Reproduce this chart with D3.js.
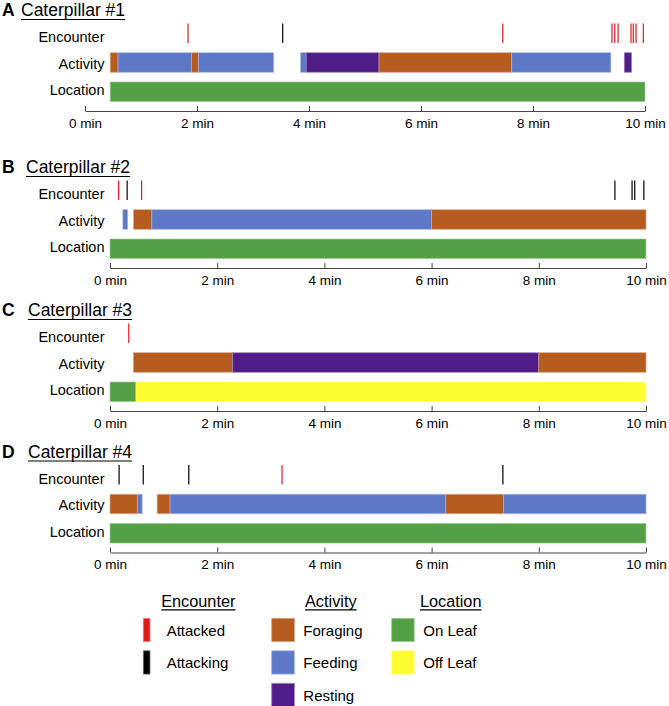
<!DOCTYPE html>
<html>
<head>
<meta charset="utf-8">
<script src="https://cdn.jsdelivr.net/npm/d3@7"></script>
<style>
  body { margin: 0; background: #fff; }
  text { font-family: "Liberation Sans", Arial, sans-serif; }
</style>
</head>
<body>
<div id="chart"></div>
<script>
// ---- data (minutes) ----
const panelLetters = ["A", "B", "C", "D"];
const panelNames = ["Caterpillar #1", "Caterpillar #2", "Caterpillar #3", "Caterpillar #4"];
const rowNames = ["Encounter", "Activity", "Location"];
const tickMinutes = [0, 2, 4, 6, 8, 10];

// Caterpillar #1
const attacked1 = [1.84, 7.46, 9.41, 9.46, 9.52, 9.75, 9.79, 9.84, 9.97];
const attacking1 = [3.53];
const activity1 = [["Foraging", 0.45, 0.59], ["Feeding", 0.59, 1.90], ["Foraging", 1.90, 2.03],
  ["Feeding", 2.03, 3.37], ["Feeding", 3.85, 3.95], ["Resting", 3.95, 5.25],
  ["Foraging", 5.25, 7.62], ["Feeding", 7.62, 9.39], ["Resting", 9.63, 9.76]];
const location1 = [["On Leaf", 0.45, 10]];

// Caterpillar #2
const attacked2 = [0.16, 0.59];
const attacking2 = [0.32, 9.42, 9.74, 9.79, 9.96];
const activity2 = [["Feeding", 0.24, 0.33], ["Foraging", 0.44, 0.78], ["Feeding", 0.78, 6.0],
  ["Foraging", 6.0, 10]];
const location2 = [["On Leaf", 0, 10]];

// Caterpillar #3
const attacked3 = [0.35];
const attacking3 = [];
const activity3 = [["Foraging", 0.435, 2.29], ["Resting", 2.29, 8.0], ["Foraging", 8.0, 10]];
const location3 = [["On Leaf", 0, 0.485], ["Off Leaf", 0.485, 10]];

// Caterpillar #4
const attacked4 = [3.21];
const attacking4 = [0.17, 0.62, 1.47, 7.33];
const activity4 = [["Foraging", 0, 0.51], ["Feeding", 0.51, 0.60], ["Foraging", 0.88, 1.12],
  ["Feeding", 1.12, 6.26], ["Foraging", 6.26, 7.34], ["Feeding", 7.34, 10]];
const location4 = [["On Leaf", 0, 10]];

const encounterTypes = ["Attacked", "Attacking"];
const activityTypes = ["Foraging", "Feeding", "Resting"];
const locationTypes = ["On Leaf", "Off Leaf"];

const attackedAll = [attacked1, attacked2, attacked3, attacked4];
const attackingAll = [attacking1, attacking2, attacking3, attacking4];
const activityAll = [activity1, activity2, activity3, activity4];
const locationAll = [location1, location2, location3, location4];

// ---- style ----
const color = {
  "Attacked": "#e31a1c", "Attacking": "#000000",
  "Foraging": "#b75c1f", "Feeding": "#5c78c7", "Resting": "#501c87",
  "On Leaf": "#53a045", "Off Leaf": "#fdfd30"
};
const edge = c => d3.interpolateRgb(c, "#fff")(0.45);

const panelTop = [0, 157, 300, 441.5];
const axisRanges = [[85, 645], [110, 646], [110, 646], [110, 646]];
const titleX = [21, 26, 28, 28];
const labelBaseline = {"Encounter": 42, "Activity": 68.5, "Location": 95};

const svg = d3.select("#chart")
  .append("svg")
  .attr("width", 669)
  .attr("height", 706);

const y = d3.scaleBand()
  .domain(rowNames)
  .range([23.5, 101.5])
  .paddingInner(0.333);

panelNames.forEach((name, i) => {
  const g = svg.append("g").attr("transform", "translate(0," + panelTop[i] + ")");
  const x = d3.scaleLinear().domain([0, 10]).range(axisRanges[i]);

  // title
  g.append("text").attr("x", 2).attr("y", 16).attr("font-size", 17.5)
    .attr("font-weight", "bold").text(panelLetters[i]);
  const t = g.append("text").attr("x", titleX[i]).attr("y", 16).attr("font-size", 17.5).text(name);
  const w = t.node().getComputedTextLength();
  g.append("line").attr("x1", titleX[i]).attr("x2", titleX[i] + w)
    .attr("y1", 19.5).attr("y2", 19.5).attr("stroke", "#000").attr("stroke-width", 1.2);

  // row labels
  g.selectAll(".rowlab")
    .data(rowNames)
    .enter()
    .append("text")
    .attr("x", 104.5)
    .attr("y", d => labelBaseline[d])
    .attr("text-anchor", "end")
    .attr("font-size", 14.5)
    .text(d => d);

  // encounters
  const enc = attackingAll[i].map(v => ({t: v, type: "Attacking"}))
    .concat(attackedAll[i].map(v => ({t: v, type: "Attacked"})));
  g.selectAll(".enc")
    .data(enc)
    .enter()
    .append("line")
    .attr("x1", d => x(d.t)).attr("x2", d => x(d.t))
    .attr("y1", y("Encounter")).attr("y2", y("Encounter") + y.bandwidth())
    .attr("stroke", d => color[d.type])
    .attr("stroke-width", 1.2);

  // activity
  g.selectAll(".act")
    .data(activityAll[i])
    .enter()
    .append("rect")
    .attr("x", d => x(d[1]))
    .attr("width", d => x(d[2]) - x(d[1]))
    .attr("y", y("Activity"))
    .attr("height", y.bandwidth())
    .attr("fill", d => color[d[0]])
    .attr("stroke", d => edge(color[d[0]]))
    .attr("stroke-width", 0.7);

  // location
  g.selectAll(".loc")
    .data(locationAll[i])
    .enter()
    .append("rect")
    .attr("x", d => x(d[1]))
    .attr("width", d => x(d[2]) - x(d[1]))
    .attr("y", y("Location"))
    .attr("height", y.bandwidth())
    .attr("fill", d => color[d[0]])
    .attr("stroke", d => edge(color[d[0]]))
    .attr("stroke-width", 0.7);

  // axis
  const ax = g.append("g")
    .attr("transform", "translate(0,111)")
    .call(d3.axisBottom(x).tickValues(tickMinutes).tickSize(-5).tickSizeOuter(0)
      .tickPadding(7).tickFormat(d => d + " min"));
  ax.select(".domain").attr("stroke", "#444");
  ax.selectAll(".tick line").attr("stroke", "#444");
  ax.selectAll("text").attr("font-size", 13.5)
    .attr("font-family", "'Liberation Sans', Arial, sans-serif").attr("fill", "#000");
});

// ---- legend ----
const legendCols = [
  {title: "Encounter", items: encounterTypes, cx: 198.3, rx: 143.3, rw: 6.7, tx: 166.7},
  {title: "Activity", items: activityTypes, cx: 330.8, rx: 271.7, rw: 22.7, tx: 303.3},
  {title: "Location", items: locationTypes, cx: 450.7, rx: 391.7, rw: 22.5, tx: 423.3}
];
const ly = d3.scaleLinear().domain([0, 1]).range([618.3, 650.8]);

legendCols.forEach(col => {
  const lg = svg.append("g");
  const h = lg.append("text").attr("x", col.cx).attr("y", 606.5).attr("text-anchor", "middle")
    .attr("font-size", 16.3).text(col.title);
  const hw = h.node().getComputedTextLength();
  lg.append("line").attr("x1", col.cx - hw / 2).attr("x2", col.cx + hw / 2)
    .attr("y1", 609.8).attr("y2", 609.8).attr("stroke", "#000").attr("stroke-width", 1.2);

  lg.selectAll("rect")
    .data(col.items)
    .enter()
    .append("rect")
    .attr("x", col.rx)
    .attr("y", (d, j) => ly(j))
    .attr("width", col.rw)
    .attr("height", 23.3)
    .attr("fill", d => color[d])
    .attr("stroke", d => edge(color[d]))
    .attr("stroke-width", 0.8);

  lg.selectAll(".ltext")
    .data(col.items)
    .enter()
    .append("text")
    .attr("x", col.tx)
    .attr("y", (d, j) => ly(j) + 17.4)
    .attr("font-size", 15)
    .text(d => d);
});
</script>
</body>
</html>
